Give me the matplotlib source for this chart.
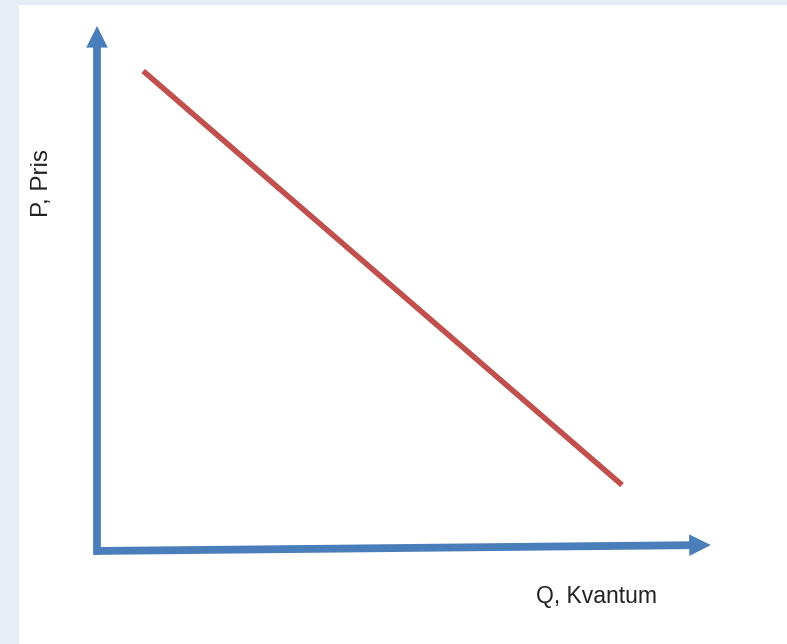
import matplotlib
matplotlib.use("Agg")
import matplotlib.pyplot as plt
from matplotlib.patches import Rectangle, FancyArrow

# Demand curve (quantity, price) in chart units
quantity = [0.77, 8.75]
price = [8.0, 1.1]

x_label = "Q, Kvantum"
y_label = "P, Pris"

# Axis extents (arrow tips)
x_axis_end = 10.23
y_axis_end = 8.75

W, H, DPI = 787, 644, 100
S = 60.0           # pixels per unit
ox, oy = 97, 551   # origin in pixels

fig = plt.figure(figsize=(W / DPI, H / DPI), dpi=DPI, facecolor="white")
# light blue frame strips (top and left)
fig.patches.append(Rectangle((0, 0), 19 / W, 1, transform=fig.transFigure,
                             facecolor="#e6edf7", edgecolor="none", zorder=0))
fig.patches.append(Rectangle((0, 1 - 5 / H), 1, 5 / H, transform=fig.transFigure,
                             facecolor="#e6edf7", edgecolor="none", zorder=0))

ax = fig.add_axes([19 / W, 0, 1 - 19 / W, 1 - 5 / H])
ax.set_facecolor("white")
ax.set_xlim((19 - ox) / S, (W - ox) / S)
ax.set_ylim((oy - H) / S, (oy - 5) / S)
ax.axis("off")

blue = "#4a7ebb"
red = "#c0504d"

# axes arrows
ax.add_patch(FancyArrow(0, -0.06, 0, y_axis_end + 0.06, width=0.13, head_width=0.36,
                        head_length=0.36, length_includes_head=True,
                        color=blue, lw=0, zorder=2))
ax.add_patch(FancyArrow(-0.06, 0, x_axis_end + 0.06, 0.1, width=0.13, head_width=0.36,
                        head_length=0.36, length_includes_head=True,
                        color=blue, lw=0, zorder=2))

# demand line
ax.plot(quantity, price, color=red, lw=4.0, solid_capstyle="butt", zorder=3)

font = ["Liberation Sans", "DejaVu Sans"]
ax.text((597 - ox) / S, (oy - 597) / S, x_label, ha="center", va="center",
        fontsize=16.5, color="#222222", family=font)
ax.text((42 - ox) / S, (oy - 183) / S, y_label, ha="center", va="center",
        rotation=90, fontsize=17.5, color="#222222", family=font)

fig.savefig("out.png", dpi=DPI, facecolor="white")
